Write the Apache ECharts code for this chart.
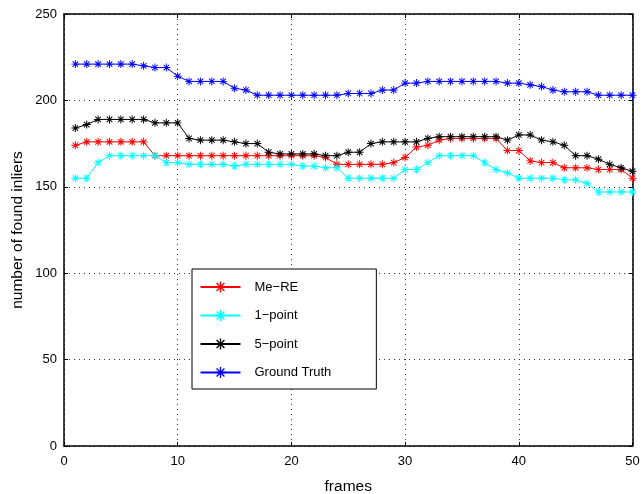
<!DOCTYPE html>
<html>
<head>
<meta charset="utf-8">
<script src="https://cdn.jsdelivr.net/npm/echarts@6/dist/echarts.min.js"></script>
<style>html,body{margin:0;padding:0;background:#fff}#c{width:642px;height:494px}</style>
</head>
<body>
<div id="c"></div>
<script>
var frames = [];
for (var i = 1; i <= 50; i++) frames.push(i);
var seriesNames = ['Me\u2212RE', '1\u2212point', '5\u2212point', 'Ground Truth'];
var meRE = [174,176,176,176,176,176,176,168,168,168,168,168,168,168,168,168,168,168,168,168,168,168,167,163,163,163,163,163,164,167,173,174,177,178,178,178,178,178,171,171,165,164,164,161,161,161,160,160,160,155];
var onePoint = [155,155,164,168,168,168,168,168,164,164,163,163,163,163,162,163,163,163,163,163,162,162,161,161,155,155,155,155,155,160,160,164,168,168,168,168,164,160,158,155,155,155,155,154,154,152,147,147,147,147];
var fivePoint = [184,186,189,189,189,189,189,187,187,187,178,177,177,177,176,175,175,170,169,169,169,169,168,168,170,170,175,176,176,176,176,178,179,179,179,179,179,179,177,180,180,177,176,174,168,168,166,163,161,159];
var groundTruth = [221,221,221,221,221,221,220,219,219,214,211,211,211,211,207,206,203,203,203,203,203,203,203,203,204,204,204,206,206,210,210,211,211,211,211,211,211,211,210,210,209,208,206,205,205,205,203,203,203,203];
var xTicks = [0,10,20,30,40,50];
var yTicks = [0,50,100,150,200,250];

var star = 'path://M-0.6,-5L0.6,-5L0.6,5L-0.6,5Z M-5,-0.6L5,-0.6L5,0.6L-5,0.6Z M-3.08,-3.92L3.92,3.08L3.08,3.92L-3.92,-3.08Z M3.08,-3.92L3.92,-3.08L-3.08,3.92L-3.92,3.08Z';
var colors = ['#ff0000', '#00ffff', '#000000', '#0000ff'];
var datasets = [meRE, onePoint, fivePoint, groundTruth];

function pairs(vals) { return frames.map(function (f, i) { return [f, vals[i]]; }); }

var font = 'Liberation Sans, Arial, Helvetica, sans-serif';
var chart = echarts.init(document.getElementById('c'), null, {renderer: 'canvas'});
var axisCommon = {
  type: 'value',
  axisLine: {show: true, onZero: false, lineStyle: {color: '#000', width: 1.5}},
  axisTick: {show: true, inside: true, length: 4, lineStyle: {color: '#000', width: 1}},
  minorTick: {show: false}
};
chart.setOption({
  animation: false,
  backgroundColor: '#fff',
  grid: {left: 64, right: 9.5, top: 14, bottom: 48, show: false, containLabel: false, outerBoundsMode: 'none'},
  legend: {
    orient: 'vertical',
    left: 192, top: 269,
    data: seriesNames,
    itemWidth: 40, itemHeight: 14, itemGap: 14.5,
    padding: [11, 45, 9.5, 7.5],
    borderColor: '#000', borderWidth: 1,
    backgroundColor: '#fff',
    textStyle: {fontFamily: font, fontSize: 13, color: '#000', padding: [0, 0, 0, 9], lineHeight: 14},
    selectedMode: false
  },
  xAxis: [
    Object.assign({}, axisCommon, {
      min: xTicks[0], max: xTicks[xTicks.length - 1], interval: 10, position: 'bottom',
      name: 'frames', nameLocation: 'middle', nameGap: 33, nameMoveOverlap: false,
      nameTextStyle: {fontFamily: font, fontSize: 15.5, color: '#000'},
      axisLabel: {fontFamily: font, fontSize: 13, color: '#000', margin: 8.5},
      splitLine: {show: true, lineStyle: {color: '#333', type: [1, 4], width: 1}}
    }),
    Object.assign({}, axisCommon, {
      min: xTicks[0], max: xTicks[xTicks.length - 1], interval: 10, position: 'top',
      axisLabel: {show: false}, splitLine: {show: false}
    })
  ],
  yAxis: [
    Object.assign({}, axisCommon, {
      min: yTicks[0], max: yTicks[yTicks.length - 1], interval: 50, position: 'left',
      name: 'number of found inliers', nameLocation: 'middle', nameGap: 38, nameMoveOverlap: false,
      nameTextStyle: {fontFamily: font, fontSize: 15.5, color: '#000'},
      axisLabel: {fontFamily: font, fontSize: 13, color: '#000', margin: 7},
      splitLine: {show: true, lineStyle: {color: '#333', type: [1, 4], width: 1}}
    }),
    Object.assign({}, axisCommon, {
      min: yTicks[0], max: yTicks[yTicks.length - 1], interval: 50, position: 'right',
      axisLabel: {show: false}, splitLine: {show: false}
    })
  ],
  series: seriesNames.map(function (n, k) {
    return {
      name: n, type: 'line', data: pairs(datasets[k]),
      symbol: star, symbolSize: 8, showSymbol: true,
      lineStyle: {color: colors[k], width: 1},
      itemStyle: {color: colors[k]},
      emphasis: {disabled: true},
      z: 2 + k
    };
  })
});
</script>
</body>
</html>
